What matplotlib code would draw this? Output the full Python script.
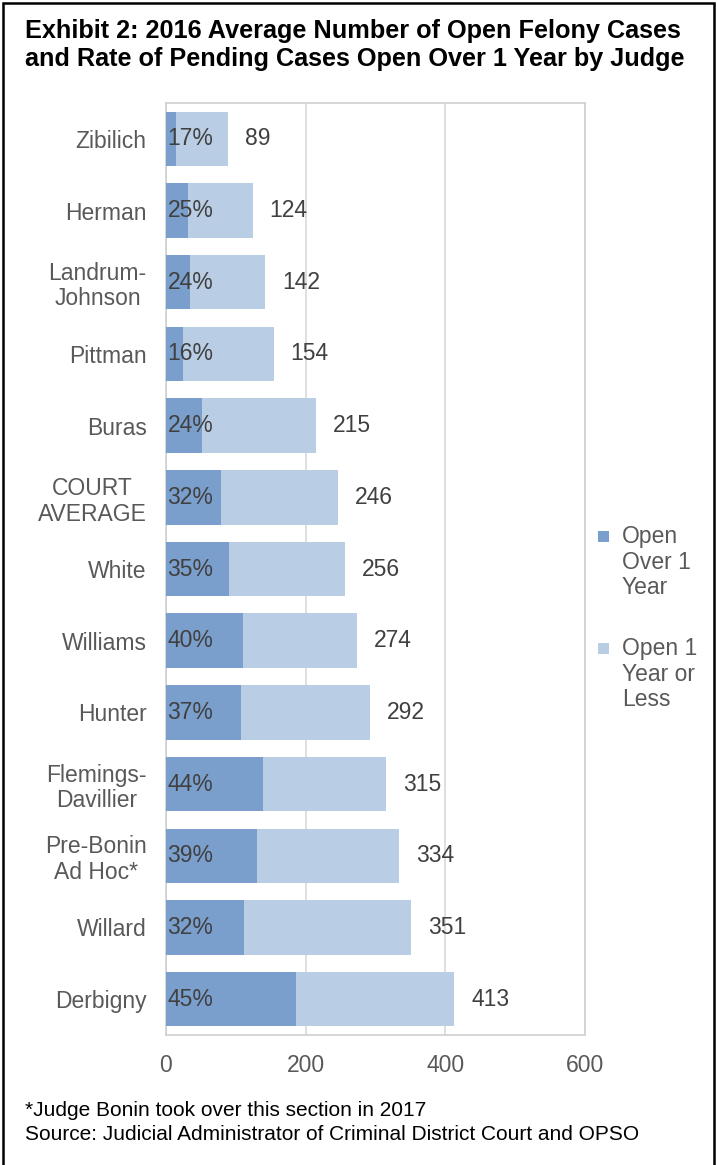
import matplotlib.pyplot as plt
from matplotlib.patches import Rectangle

plt.rcParams['font.family'] = ['Liberation Sans', 'DejaVu Sans']

judges = ['Zibilich', 'Herman', 'Landrum-\nJohnson', 'Pittman', 'Buras', 'COURT\nAVERAGE',
          'White', 'Williams', 'Hunter', 'Flemings-\nDavillier', 'Pre-Bonin\nAd Hoc*',
          'Willard', 'Derbigny']
totals = [89, 124, 142, 154, 215, 246, 256, 274, 292, 315, 334, 351, 413]
over_1yr = [15, 31, 34, 25, 52, 79, 90, 110, 108, 139, 130, 112, 186]
pct_labels = ['17%', '25%', '24%', '16%', '24%', '32%', '35%', '40%', '37%', '44%', '39%', '32%', '45%']
series = ['Open\nOver 1\nYear', 'Open 1\nYear or\nLess']

under_1yr = [t - o for t, o in zip(totals, over_1yr)]

dark = '#7A9FCC'
light = '#B9CDE5'
txt = '#404040'
grey = '#595959'
fs = 16.5

fig = plt.figure(figsize=(7.17, 11.65), dpi=100)
ax = fig.add_axes([166 / 717, 1 - 1035 / 1165, 419 / 717, 932 / 1165])

y = list(range(len(judges)))
ax.barh(y, over_1yr, height=0.76, color=dark, zorder=3)
ax.barh(y, under_1yr, left=over_1yr, height=0.76, color=light, zorder=3)

for i in y:
    ax.text(2, i, pct_labels[i], ha='left', va='center', fontsize=fs, color=txt, zorder=4)
    ax.annotate(str(totals[i]), (totals[i], i), xytext=(12, 0), textcoords='offset points',
                ha='left', va='center', fontsize=fs, color=txt)

ax.set_xlim(0, 600)
ax.set_ylim(len(judges) - 0.5, -0.5)
ax.set_xticks([0, 200, 400, 600])
ax.set_yticks(y)
ax.set_yticklabels(judges, multialignment='center', linespacing=1.15)
ax.tick_params(axis='both', length=0, labelsize=fs, labelcolor=grey)
ax.tick_params(axis='y', pad=14)
ax.tick_params(axis='x', pad=14)
ax.grid(axis='x', color='#D9D9D9', linewidth=1.2, zorder=0)
for s in ax.spines.values():
    s.set_color('#D0D0D0')
    s.set_linewidth(1.2)

# legend: square marker level with the first line of each label
for k, (lab, col) in enumerate(zip(series, [dark, light])):
    ytop = 1 - (537 + 112 * k) / 1165
    fig.patches.append(Rectangle((598 / 717, ytop - 5 / 1165), 11 / 717, 11 / 1165,
                                 transform=fig.transFigure, facecolor=col, edgecolor='none'))
    fig.text(622 / 717, ytop + 12 / 1165, lab, ha='left', va='top', fontsize=fs,
             color=grey, linespacing=1.15)

fig.text(25 / 717, 1 - 38 / 1165, 'Exhibit 2: 2016 Average Number of Open Felony Cases',
         ha='left', va='baseline', fontsize=18.2, fontweight='bold', color='black')
fig.text(25 / 717, 1 - 66 / 1165, 'and Rate of Pending Cases Open Over 1 Year by Judge',
         ha='left', va='baseline', fontsize=18.2, fontweight='bold', color='black')

fig.text(25 / 717, 1 - 1110 / 1165, '*Judge Bonin took over this section in 2017',
         ha='left', va='center', fontsize=15, color='black')
fig.text(25 / 717, 1 - 1135 / 1165, 'Source: Judicial Administrator of Criminal District Court and OPSO',
         ha='left', va='center', fontsize=15, color='black')

fig.patches.append(Rectangle((3 / 717, -0.01), 711 / 717, 1.01 - 3 / 1165, transform=fig.transFigure,
                             fill=False, edgecolor='black', linewidth=1.8))

fig.savefig('out.png', dpi=100)
